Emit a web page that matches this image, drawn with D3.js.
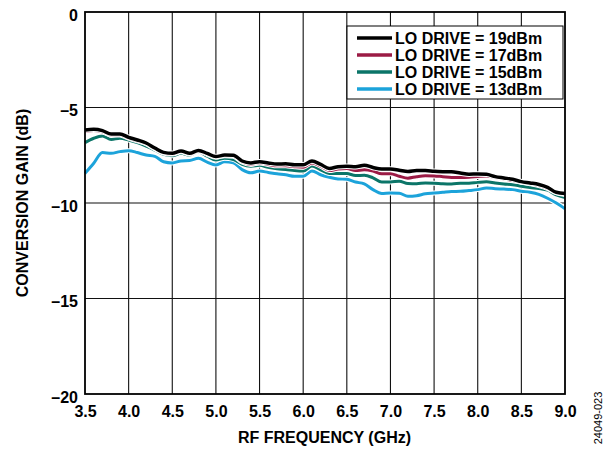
<!DOCTYPE html>
<html><head><meta charset="utf-8">
<script src="https://cdn.jsdelivr.net/npm/d3@7"></script>
<style>
body{margin:0;background:#fff;}
text{font-family:"Liberation Sans",Arial,sans-serif;}
</style></head>
<body><svg id="c" width="610" height="451"></svg>
<script>
const freq = [3.5,3.6,3.7,3.8,3.9,4.0,4.1,4.2,4.3,4.4,4.5,4.6,4.7,4.8,4.9,5.0,5.1,5.2,5.3,5.4,5.5,5.6,5.7,5.8,5.9,6.0,6.1,6.2,6.3,6.4,6.5,6.6,6.7,6.8,6.9,7.0,7.1,7.2,7.3,7.4,7.5,7.6,7.7,7.8,7.9,8.0,8.1,8.2,8.3,8.4,8.5,8.6,8.7,8.8,8.9,9.0];
const lo19 = [-6.18,-6.14,-6.21,-6.39,-6.39,-6.56,-6.70,-6.86,-7.12,-7.35,-7.40,-7.28,-7.40,-7.25,-7.40,-7.57,-7.49,-7.50,-7.80,-7.90,-7.84,-7.90,-7.96,-7.95,-8.00,-8.00,-7.80,-7.98,-8.19,-8.10,-8.07,-8.10,-8.02,-8.14,-8.22,-8.22,-8.28,-8.35,-8.30,-8.30,-8.34,-8.36,-8.37,-8.43,-8.49,-8.48,-8.50,-8.62,-8.69,-8.76,-8.88,-8.95,-9.03,-9.18,-9.44,-9.50];
const lo17 = [-6.25,-6.20,-6.27,-6.44,-6.44,-6.61,-6.75,-6.90,-7.16,-7.38,-7.44,-7.32,-7.44,-7.29,-7.45,-7.60,-7.52,-7.55,-7.85,-7.98,-7.90,-7.98,-8.05,-8.05,-8.10,-8.13,-7.90,-8.07,-8.30,-8.22,-8.19,-8.30,-8.26,-8.33,-8.47,-8.47,-8.60,-8.70,-8.62,-8.57,-8.58,-8.62,-8.66,-8.66,-8.65,-8.61,-8.58,-8.67,-8.74,-8.82,-8.91,-8.99,-9.09,-9.24,-9.46,-9.56];
const lo15 = [-6.84,-6.61,-6.49,-6.67,-6.61,-6.70,-6.84,-7.02,-7.23,-7.45,-7.52,-7.40,-7.49,-7.33,-7.55,-7.75,-7.66,-7.72,-7.98,-8.08,-8.03,-8.13,-8.21,-8.24,-8.30,-8.33,-8.06,-8.26,-8.45,-8.45,-8.46,-8.56,-8.55,-8.68,-8.90,-8.90,-8.86,-8.98,-8.99,-8.95,-8.96,-8.99,-9.00,-8.97,-8.96,-8.92,-8.89,-8.95,-9.00,-9.04,-9.12,-9.19,-9.24,-9.33,-9.58,-9.72];
const lo13 = [-8.45,-7.92,-7.36,-7.40,-7.31,-7.26,-7.36,-7.49,-7.56,-7.84,-7.90,-7.80,-7.78,-7.66,-7.86,-8.01,-7.84,-7.90,-8.25,-8.42,-8.33,-8.40,-8.47,-8.52,-8.60,-8.60,-8.32,-8.52,-8.65,-8.74,-8.76,-8.90,-9.00,-9.30,-9.50,-9.48,-9.49,-9.65,-9.62,-9.52,-9.48,-9.44,-9.40,-9.39,-9.35,-9.30,-9.21,-9.25,-9.27,-9.30,-9.38,-9.44,-9.55,-9.75,-10.00,-10.30];
const seriesNames = ["LO DRIVE = 19dBm","LO DRIVE = 17dBm","LO DRIVE = 15dBm","LO DRIVE = 13dBm"];
const seriesColors = ["#000000","#9b1b45","#0b7568","#1ca3da"];
const xTicks = [3.5,4.0,4.5,5.0,5.5,6.0,6.5,7.0,7.5,8.0,8.5,9.0];
const yTicks = [0,-5,-10,-15,-20];

const series = [lo19, lo17, lo15, lo13];
const svg = d3.select("#c");
const L=85, R=565, T=12, B=394;
const FS = 16;
const x = d3.scaleLinear().domain([3.5,9.0]).range([L,R]);
const y = d3.scaleLinear().domain([-20,0]).range([B,T]);

// grid
const grid = svg.append("g");
grid.selectAll("line.v").data(xTicks.slice(1,-1)).enter().append("line")
  .attr("x1",d=>x(d)).attr("x2",d=>x(d)).attr("y1",T).attr("y2",B)
  .attr("stroke","#111").attr("stroke-width",1.1);
grid.selectAll("line.h").data(yTicks.slice(1,-1)).enter().append("line")
  .attr("x1",L).attr("x2",R).attr("y1",d=>y(d)).attr("y2",d=>y(d))
  .attr("stroke","#111").attr("stroke-width",1.1);

// axes labels via d3 axes
const xAxis = d3.axisBottom(x).tickValues(xTicks).tickFormat(d3.format(".1f")).tickSize(0).tickPadding(12);
const gx = svg.append("g").attr("transform",`translate(0,${B})`).call(xAxis);
gx.select(".domain").remove();
gx.selectAll("text").attr("font-size",FS).attr("font-weight","bold").attr("fill","#000")
  .attr("font-family","Liberation Sans, Arial, sans-serif");

const yAxis = d3.axisLeft(y).tickValues(yTicks).tickFormat(d=>d<0?"\u2013"+Math.abs(d):String(d)).tickSize(0).tickPadding(7);
const gy = svg.append("g").attr("transform",`translate(${L},0)`).call(yAxis);
gy.select(".domain").remove();
gy.selectAll("text").attr("font-size",FS).attr("font-weight","bold").attr("fill","#000")
  .attr("dy","0.5em")
  .attr("font-family","Liberation Sans, Arial, sans-serif");

// legend box
const lg = svg.append("g");
lg.append("rect").attr("x",347).attr("y",26).attr("width",216).attr("height",73)
  .attr("fill","#fff").attr("stroke","#000").attr("stroke-width",1);

// lines
const line = d3.line().x((d,i)=>x(freq[i])).y(d=>y(d)).curve(d3.curveMonotoneX);
const order = [3,2,1,0];
order.forEach(k=>{
  svg.append("path").datum(series[k]).attr("d",line).attr("fill","none")
    .attr("stroke","#fff").attr("stroke-width",k===0?5.5:5).attr("stroke-linejoin","round");
  svg.append("path").datum(series[k]).attr("d",line).attr("fill","none")
    .attr("stroke",seriesColors[k]).attr("stroke-width",k===0?3.5:3).attr("stroke-linejoin","round");
});

// legend entries
seriesNames.forEach((n,i)=>{
  const yy = 38 + i*17;
  lg.append("line").attr("x1",357).attr("x2",392).attr("y1",yy).attr("y2",yy)
    .attr("stroke",seriesColors[i]).attr("stroke-width",3.5);
  lg.append("text").attr("x",395).attr("y",yy+5.5).attr("font-size",FS).attr("font-weight","bold")
    .text(n);
});

// frame
svg.append("rect").attr("x",L).attr("y",T).attr("width",R-L).attr("height",B-T)
  .attr("fill","none").attr("stroke","#000").attr("stroke-width",1.8);

// titles
svg.append("text").attr("x",324.5).attr("y",443).attr("text-anchor","middle")
  .attr("font-size",FS).attr("font-weight","bold").text("RF FREQUENCY (GHz)");
svg.append("text").attr("transform",`translate(27.5,${(T+B)/2}) rotate(-90)`).attr("text-anchor","middle")
  .attr("font-size",FS).attr("font-weight","bold").text("CONVERSION GAIN (dB)");
svg.append("text").attr("transform",`translate(602,418) rotate(-90)`).attr("text-anchor","middle")
  .attr("font-size",11).text("24049-023");
</script></body></html>
